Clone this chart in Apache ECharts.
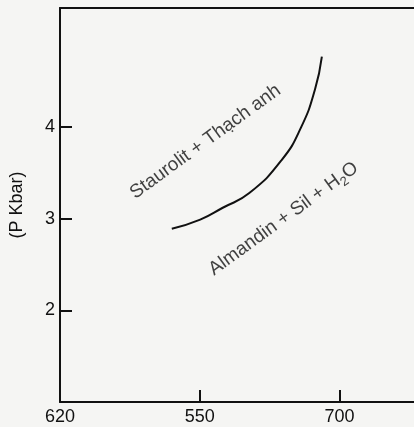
<!DOCTYPE html>
<html><head><meta charset="utf-8">
<script src="https://cdn.jsdelivr.net/npm/echarts@6/dist/echarts.min.js"></script>
<style>html,body{margin:0;padding:0;background:#f5f5f3;overflow:hidden}#c{width:414px;height:427px}</style>
</head><body><div id="c"></div>
<script>
// Boundary curve (T, P)
const curveT = [520, 550.5, 574.7, 603.2, 637.9, 658.9, 673.7, 681.1];
const curveP = [2.89, 2.99, 3.12, 3.28, 3.64, 4.0, 4.41, 4.77];
// x tick positions and the printed labels
const xTickValues = [400, 550, 700];
const xTickLabels = ['620', '550', '700'];
const yTickValues = [2, 3, 4];
// field annotations [T, P, text]
const fieldLabels = [
  [556, 3.84, 'Staurolit + Thạch anh'],
  [640, 3.0, '{a|Almandin + Sil + H}{s|2}{a|O}']
];

const font = 'Liberation Sans, Arial, sans-serif';
const ink = '#111111';
const chart = echarts.init(document.getElementById('c'), null, {renderer: 'canvas'});
chart.setOption({
  backgroundColor: '#f5f5f3',
  animation: false,
  grid: {left: 57, top: 8, right: -4, bottom: 25, containLabel: false},
  xAxis: [{
    type: 'value', min: 400, max: 780, interval: 150, position: 'bottom',
    axisLine: {show: true, lineStyle: {color: ink, width: 2}},
    axisTick: {show: true, inside: true, length: 12, lineStyle: {color: ink, width: 2}},
    axisLabel: {show: true, showMaxLabel: false, margin: 6, fontSize: 18, fontFamily: font, color: ink,
      formatter: v => { const i = xTickValues.indexOf(Math.round(v)); return i >= 0 ? xTickLabels[i] : ''; }},
    splitLine: {show: false}
  }, {
    type: 'value', min: 400, max: 780, position: 'top',
    axisLine: {show: true, onZero: false, lineStyle: {color: ink, width: 2}},
    axisTick: {show: false}, axisLabel: {show: false}, splitLine: {show: false}
  }],
  yAxis: {
    type: 'value', min: 1, max: 5.3,
    name: '(P Kbar)', nameLocation: 'middle', nameGap: 34, nameRotate: 90,
    nameTextStyle: {fontSize: 18, fontFamily: font, color: ink},
    axisLine: {show: true, lineStyle: {color: ink, width: 2}},
    axisTick: {show: true, inside: true, length: 12, customValues: yTickValues, lineStyle: {color: ink, width: 2}},
    axisLabel: {show: true, customValues: yTickValues, margin: 5, fontSize: 18, fontFamily: font, color: ink},
    splitLine: {show: false}
  },
  series: [{
    type: 'line', xAxisIndex: 0, smooth: true, symbol: 'none',
    lineStyle: {color: ink, width: 2},
    data: curveT.map((t, i) => [t, curveP[i]])
  }, {
    type: 'scatter', xAxisIndex: 0, symbolSize: 0,
    data: fieldLabels.map(d => ({value: [d[0], d[1]], label: {formatter: d[2]}})),
    label: {
      show: true, position: 'inside', rotate: 36, fontSize: 19, fontFamily: font, color: ink,
      rich: {
        a: {fontSize: 19, fontFamily: font, color: ink},
        s: {fontSize: 13, fontFamily: font, color: ink, padding: [12, 0, 0, 0]}
      }
    }
  }]
});
</script></body></html>
